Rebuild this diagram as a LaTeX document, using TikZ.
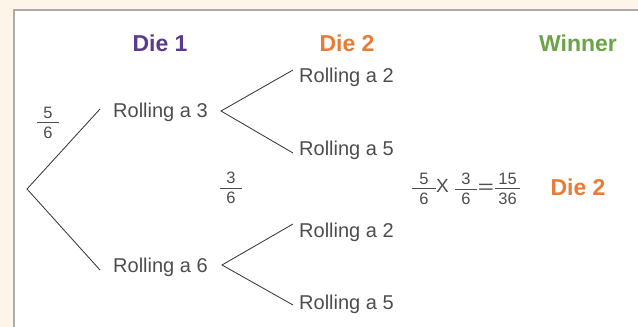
\documentclass[tikz,border=0pt]{standalone}
\usepackage{graphicx}
\usepackage{fontspec}
\setmainfont{Liberation Sans}
\definecolor{bgcream}{HTML}{FDF5E7}
\definecolor{bordergray}{HTML}{ABABAB}
\definecolor{dieone}{HTML}{5A3A8E}
\definecolor{dietwo}{HTML}{E87B35}
\definecolor{winnercol}{HTML}{6BA347}
\definecolor{txtgray}{HTML}{4D4D4D}
\definecolor{linegray}{HTML}{3A3A3A}
% fraction: bar width, numerator, denominator
\newcommand\myfr[3]{\vbox{\offinterlineskip\hbox to #1{\hfil#2\hfil}\kern4pt\hrule height 0.9pt\kern4pt\hbox to #1{\hfil#3\hfil}}}
\tikzset{
  head/.style={font=\fontsize{23}{26}\selectfont\bfseries, inner sep=0pt},
  roll/.style={font=\fontsize{20}{24}\selectfont, text=txtgray, inner sep=0pt, anchor=base west},
  frac/.style={font=\fontsize{16.5}{19}\selectfont, text=txtgray, inner sep=0pt},
  opsym/.style={font=\fontsize{19}{22}\selectfont, text=txtgray, inner sep=0pt},
  branch/.style={draw=linegray, line width=0.85pt},
}
\begin{document}
\begin{tikzpicture}[x=1pt,y=-1pt]
\useasboundingbox (0,0) rectangle (638,327);
\fill[bgcream] (0,0) rectangle (638,327);
\fill[white] (14,10) rectangle (638,327);
\draw[bordergray, line width=2pt] (14,327) -- (14,10) -- (638,10);

% headings
\node[head, text=dieone] (h1) at (160,43) {Die 1};
\node[head, text=dietwo] (h2) at (347,43) {Die 2};
\node[head, text=winnercol] (h3) at (578,43) {Winner};

% first die outcomes
\node[roll] (r3) at (113,117) {Rolling a 3};
\node[roll] (r6) at (113,272) {Rolling a 6};

% second die outcomes
\node[roll] (r32) at (299,82) {Rolling a 2};
\node[roll] (r35) at (299,155) {Rolling a 5};
\node[roll] (r62) at (299,237) {Rolling a 2};
\node[roll] (r65) at (299,309) {Rolling a 5};

% branch points
\coordinate (root) at (27,189);
\coordinate (a1) at (100,109);
\coordinate (a2) at (100,270);
\coordinate (v1) at (221,111);
\coordinate (e11) at (293,70);
\coordinate (e12) at (293,153);
\coordinate (v2) at (222,265);
\coordinate (e21) at (293,224);
\coordinate (e22) at (293,305);

\draw[branch] (a1) -- (root) -- (a2);
\draw[branch] (e11) -- (v1) -- (e12);
\draw[branch] (e21) -- (v2) -- (e22);

% probabilities
\node[frac] (p1) at (48,123) {\myfr{22pt}{5}{6}};
\node[frac] (p2) at (231,188) {\myfr{22pt}{3}{6}};

% result
\node[frac] (q1) at (424,189) {\myfr{24pt}{5}{6}};
\node[opsym] (times) at (442.5,185.5) {X};
\node[frac] (q2) at (466,189) {\myfr{22pt}{3}{6}};
\node[opsym] (equals) at (486,188.5) {\scalebox{1.45}[1]{=}};
\node[frac] (q3) at (507.5,189) {\myfr{25pt}{15}{36}};
\node[head, text=dietwo] (win) at (578,187) {Die 2};
\end{tikzpicture}
\end{document}
